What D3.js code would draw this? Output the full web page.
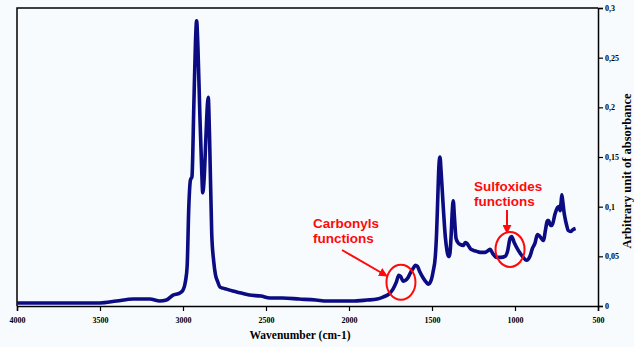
<!DOCTYPE html>
<html>
<head>
<meta charset="utf-8">
<script src="https://cdn.jsdelivr.net/npm/d3@7"></script>
<style>
  body { margin: 0; background: #f8fbfe; }
  svg { display: block; }
  .tick text { font-family: "Liberation Serif", "Times New Roman", serif; font-weight: bold; font-size: 8px; fill: #000; }
  .axis-title { font-family: "Liberation Serif", "Times New Roman", serif; font-weight: bold; font-size: 11.5px; fill: #000; }
  .note { font-family: "Liberation Sans", Arial, sans-serif; font-weight: bold; font-size: 13.5px; fill: #ff0a0a; }
</style>
</head>
<body>
<div id="chart"></div>
<script>
// IR spectrum
const wavenumbers = [4000, 3800, 3600, 3500, 3400, 3300, 3200, 3140, 3100, 3060, 3020, 3000, 2985, 2975, 2965, 2955, 2946, 2935, 2925, 2918, 2910, 2898, 2888, 2881, 2872, 2862, 2852, 2848, 2840, 2827, 2815, 2805, 2790, 2777, 2760, 2737, 2700, 2650, 2600, 2530, 2476, 2400, 2300, 2200, 2133, 2050, 1980, 1892, 1830, 1795, 1760, 1735, 1715, 1700, 1690, 1673, 1658, 1643, 1625, 1613, 1600, 1588, 1575, 1552, 1535, 1522, 1505, 1494, 1480, 1472, 1465, 1460, 1455, 1452, 1445, 1432, 1420, 1410, 1402, 1395, 1385, 1378, 1372, 1365, 1355, 1340, 1331, 1310, 1300, 1290, 1270, 1251, 1230, 1211, 1180, 1160, 1150, 1135, 1110, 1085, 1060, 1045, 1030, 1020, 1005, 980, 955, 930, 910, 895, 880, 865, 850, 829, 815, 805, 798, 785, 777, 760, 744, 735, 728, 722, 718, 712, 705, 699, 690, 679, 665, 650, 635];
const absorbance = [0.003, 0.003, 0.003, 0.003, 0.005, 0.007, 0.007, 0.005, 0.006, 0.011, 0.013, 0.016, 0.025, 0.04, 0.10, 0.127, 0.13, 0.20, 0.265, 0.287, 0.26, 0.19, 0.14, 0.114, 0.13, 0.17, 0.205, 0.21, 0.17, 0.073, 0.045, 0.032, 0.024, 0.019, 0.018, 0.017, 0.015, 0.013, 0.011, 0.010, 0.008, 0.008, 0.007, 0.006, 0.005, 0.005, 0.005, 0.006, 0.007, 0.009, 0.012, 0.017, 0.024, 0.031, 0.030, 0.025, 0.026, 0.029, 0.035, 0.038, 0.041, 0.040, 0.035, 0.028, 0.024, 0.022, 0.026, 0.034, 0.05, 0.075, 0.11, 0.135, 0.148, 0.150, 0.135, 0.099, 0.07, 0.056, 0.050, 0.050, 0.07, 0.095, 0.106, 0.09, 0.068, 0.063, 0.062, 0.061, 0.064, 0.063, 0.058, 0.056, 0.055, 0.054, 0.054, 0.056, 0.057, 0.053, 0.049, 0.049, 0.050, 0.055, 0.068, 0.070, 0.064, 0.056, 0.050, 0.046, 0.050, 0.058, 0.063, 0.072, 0.070, 0.066, 0.078, 0.086, 0.086, 0.081, 0.081, 0.092, 0.099, 0.100, 0.096, 0.105, 0.112, 0.105, 0.095, 0.089, 0.082, 0.076, 0.075, 0.077, 0.078];

const xTicks = [4000, 3500, 3000, 2500, 2000, 1500, 1000, 500];
const yTicks = [0, 0.05, 0.1, 0.15, 0.2, 0.25, 0.3];

// annotations: label lines, circled band (wavenumber, absorbance)
const noteLabels = [["Carbonyls", "functions"], ["Sulfoxides", "functions"]];
const noteBands = [[1687, 0.024], [1030, 0.057]];

const width = 634, height = 347;
const margin = {top: 8, right: 36, bottom: 41, left: 17};

const svg = d3.select('#chart').append('svg')
    .attr('width', width).attr('height', height);

const x = d3.scaleLinear().domain([4000, 500]).range([margin.left, width - margin.right]);
const y = d3.scaleLinear().domain([0, 0.3]).range([height - margin.bottom, margin.top]);

// frame (top + left)
svg.append('path')
    .attr('d', `M${x(4000)},${y(0)}V${y(0.3)}H${x(500)}`)
    .attr('fill', 'none').attr('stroke', '#000').attr('stroke-width', 1.5);

const fmt = d => d === 0 ? '0' : String(d).replace('.', ',');

const xAxis = svg.append('g')
    .attr('transform', `translate(0,${y(0)})`)
    .call(d3.axisBottom(x).tickValues(xTicks).tickSize(5).tickPadding(6).tickFormat(d3.format('d')));
const yAxis = svg.append('g')
    .attr('transform', `translate(${x(500)},0)`)
    .call(d3.axisRight(y).tickValues(yTicks).tickSize(5).tickPadding(2).tickFormat(fmt));
[xAxis, yAxis].forEach(a => {
    a.select('.domain').attr('stroke-width', 1.5);
    a.selectAll('.tick line').attr('stroke-width', 1.2);
});

// spectrum
const line = d3.line()
    .x((d, i) => x(wavenumbers[i]))
    .y(d => y(d))
    .curve(d3.curveMonotoneX);
svg.append('path')
    .datum(absorbance)
    .attr('d', line)
    .attr('fill', 'none')
    .attr('stroke', '#0b0b82')
    .attr('stroke-width', 3.6)
    .attr('stroke-linejoin', 'round');

// axis titles
svg.append('text').classed('axis-title', true)
    .attr('x', 300).attr('y', 339).attr('text-anchor', 'middle')
    .text('Wavenumber (cm-1)');
svg.append('text').classed('axis-title', true)
    .attr('transform', `translate(631,171) rotate(-90)`)
    .attr('text-anchor', 'middle')
    .style('font-size', '12.5px')
    .text('Arbitrary unit of absorbance');

// annotations
const red = '#ff0a0a';
svg.append('defs').append('marker')
    .attr('id', 'head').attr('viewBox', '0 0 10 10')
    .attr('refX', 9).attr('refY', 5)
    .attr('markerWidth', 4.5).attr('markerHeight', 4.5)
    .attr('orient', 'auto')
    .append('path').attr('d', 'M0,0L10,5L0,10Z').attr('fill', red);

const notes = svg.append('g');
const textPos = [[313, 228], [474, 191]];
const arrows = [[342, 250, 387, 276], [507, 210, 507, 233]];
noteLabels.forEach((lines, i) => {
    const [bx, by] = noteBands[i];
    notes.append('ellipse')
        .attr('cx', x(bx)).attr('cy', y(by))
        .attr('rx', 14.5).attr('ry', 17.5)
        .attr('fill', 'none').attr('stroke', red).attr('stroke-width', 2);
    const t = notes.append('text').classed('note', true)
        .attr('x', textPos[i][0]).attr('y', textPos[i][1]);
    lines.forEach((s, j) => t.append('tspan')
        .attr('x', textPos[i][0]).attr('dy', j ? 15 : 0).text(s));
    const [x1, y1, x2, y2] = arrows[i];
    notes.append('line')
        .attr('x1', x1).attr('y1', y1).attr('x2', x2).attr('y2', y2)
        .attr('stroke', red).attr('stroke-width', 2)
        .attr('marker-end', 'url(#head)');
});
</script>
</body>
</html>
